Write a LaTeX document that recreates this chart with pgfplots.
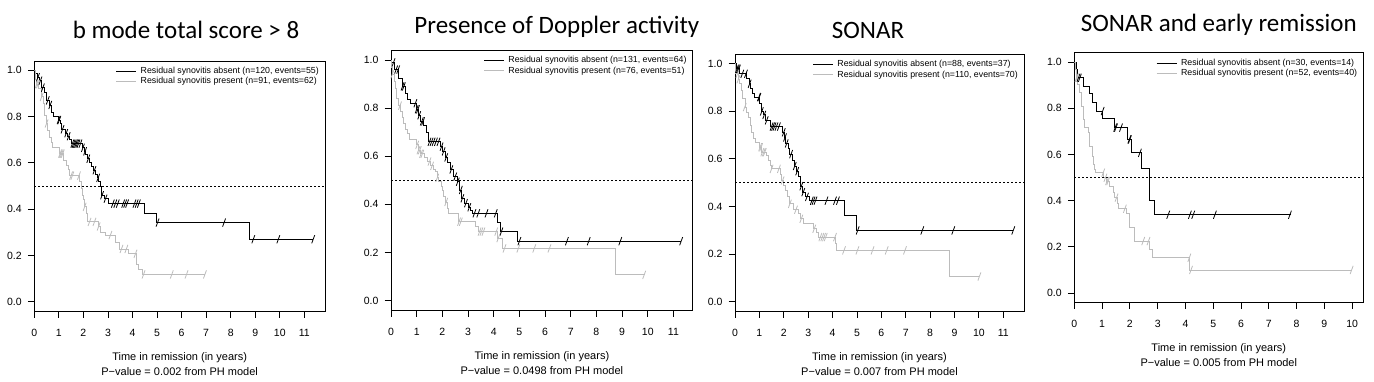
\documentclass[border=0pt]{standalone}
\usepackage{pgfplots}
\pgfplotsset{compat=1.18}
\usepackage{fontspec}
\setmainfont{Liberation Sans}
\newfontfamily\titlefont{Carlito}
\definecolor{kmgray}{RGB}{188,188,188}
\pgfdeclareplotmark{cens}{\pgfpathmoveto{\pgfqpoint{-1.5pt}{-4.1pt}}\pgfpathlineto{\pgfqpoint{1.5pt}{4.1pt}}\pgfusepathqstroke}
\pgfplotsset{
 km/.style={scale only axis, anchor=south west, xmin=0, ymin=-0.04, ymax=1.04,
  axis line style={line width=0.8pt},
  every tick/.style={black, line width=0.8pt},
  major tick length=6.5pt, tick align=outside, xtick pos=bottom, ytick pos=left,
  ytick={0,0.2,0.4,0.6,0.8,1},
  ticklabel style={font=\fontsize{10.5}{12}\selectfont},
  yticklabel style={xshift=-2.6pt, /pgf/number format/fixed, /pgf/number format/fixed zerofill, /pgf/number format/precision=1, /pgf/number format/assume math mode=true},
  xticklabel style={yshift=-8pt, /pgf/number format/assume math mode=true},
  legend style={at={(rel axis cs:1,1)}, anchor=north east, xshift=-1pt, yshift=-2pt, draw=none, fill=none,
    font=\fontsize{8.8}{10}\selectfont, row sep=-1.5pt, column sep=2pt},
  legend cell align=left,
  legend image code/.code={\draw[##1] (0pt,0pt) -- (20pt,0pt);},
 },
 survb/.style={const plot, black, line width=0.85pt, mark=none},
 survg/.style={const plot, kmgray, line width=0.85pt, mark=none},
 cmb/.style={only marks, mark=cens, black, mark options={line width=0.8pt}, forget plot},
 cmg/.style={only marks, mark=cens, kmgray, mark options={line width=0.8pt}, forget plot},
 half/.style={forget plot, black, line width=0.8pt, dash pattern=on 2pt off 2pt},
}
\begin{document}
\begin{tikzpicture}
\path[use as bounding box] (0pt,0pt) rectangle (1374pt,381pt);
% ---------------- Panel 1
\begin{axis}[km, name=p1, at={(34.3pt,70pt)}, width=290.7pt, height=250pt, xmax=11.84, xtick={0,1,...,11}]
\addplot[survb] coordinates {(0,1.0) (0.05,0.985) (0.12,0.97) (0.2,0.955) (0.3,0.925) (0.4,0.905) (0.48,0.87) (0.6,0.85) (0.7,0.82) (0.78,0.80) (0.98,0.785) (1.05,0.77) (1.12,0.745) (1.25,0.728) (1.35,0.715) (1.45,0.70) (1.52,0.683) (1.95,0.665) (2.03,0.65) (2.1,0.635) (2.17,0.618) (2.25,0.60) (2.32,0.585) (2.42,0.568) (2.5,0.55) (2.56,0.535) (2.63,0.518) (2.70,0.498) (2.74,0.46) (2.85,0.445) (3.0,0.424) (4.48,0.38) (4.98,0.342) (8.78,0.27) (11.36,0.27)};
\addlegendentry{Residual synovitis absent (n=120, events=55)}
\addplot[survg] coordinates {(0,1.0) (0.03,0.96) (0.08,0.94) (0.18,0.92) (0.28,0.885) (0.36,0.856) (0.42,0.806) (0.48,0.77) (0.55,0.74) (0.62,0.712) (0.7,0.69) (0.75,0.668) (1.03,0.64) (1.2,0.61) (1.3,0.59) (1.38,0.57) (1.45,0.545) (1.85,0.52) (1.9,0.49) (1.95,0.46) (2.0,0.44) (2.05,0.41) (2.12,0.38) (2.18,0.345) (2.6,0.325) (2.7,0.30) (2.9,0.288) (3.3,0.255) (3.45,0.228) (3.85,0.207) (4.15,0.16) (4.25,0.14) (4.4,0.118) (6.95,0.118)};
\addlegendentry{Residual synovitis present (n=91, events=62)}
\addplot[cmb] coordinates {(0.15,0.97) (0.25,0.955) (0.35,0.925) (0.55,0.87) (0.65,0.85) (0.99,0.785) (1.02,0.785) (1.15,0.745) (1.3,0.728) (1.4,0.715) (1.55,0.683) (1.6,0.683) (1.65,0.683) (1.7,0.683) (1.75,0.683) (1.8,0.683) (1.88,0.683) (1.98,0.665) (2.07,0.65) (2.2,0.618) (2.45,0.568) (2.6,0.535) (2.76,0.46) (2.9,0.445) (3.2,0.424) (3.3,0.424) (3.4,0.424) (3.62,0.424) (3.7,0.424) (3.78,0.424) (4.08,0.424) (4.17,0.424) (4.26,0.424) (5.02,0.342) (7.73,0.342) (8.92,0.27) (9.94,0.27) (11.36,0.27)};
\addplot[cmg] coordinates {(0.1,0.94) (0.15,0.94) (0.3,0.885) (0.5,0.77) (1.05,0.64) (1.08,0.64) (1.12,0.64) (1.16,0.64) (1.5,0.545) (1.55,0.545) (1.82,0.545) (2.05,0.41) (2.25,0.345) (2.45,0.345) (2.62,0.325) (3.1,0.288) (3.55,0.228) (3.75,0.228) (4.12,0.207) (4.45,0.118) (5.6,0.118) (6.2,0.118) (6.95,0.118)};
\addplot[half] coordinates {(0,0.5) (13,0.5)};
\end{axis}
% ---------------- Panel 2
\begin{axis}[km, name=p2, at={(391pt,70.7pt)}, width=301.7pt, height=260pt, xmax=11.75, xtick={0,1,...,11}]
\addplot[survb] coordinates {(0,1.0) (0.03,0.99) (0.15,0.96) (0.3,0.925) (0.43,0.89) (0.55,0.86) (0.65,0.835) (0.75,0.82) (1.0,0.795) (1.06,0.77) (1.15,0.745) (1.27,0.73) (1.38,0.7) (1.47,0.66) (1.92,0.64) (2.02,0.62) (2.12,0.595) (2.2,0.575) (2.31,0.545) (2.44,0.515) (2.57,0.494) (2.68,0.46) (2.75,0.425) (2.85,0.405) (3.0,0.388) (3.1,0.375) (3.18,0.363) (4.13,0.325) (4.26,0.287) (4.94,0.247) (11.3,0.247)};
\addlegendentry{Residual synovitis absent (n=131, events=64)}
\addplot[survg] coordinates {(0,1.0) (0.02,0.97) (0.05,0.94) (0.12,0.91) (0.17,0.88) (0.22,0.84) (0.27,0.81) (0.36,0.785) (0.45,0.76) (0.5,0.737) (0.58,0.71) (0.63,0.695) (0.7,0.668) (0.99,0.647) (1.05,0.625) (1.15,0.61) (1.3,0.595) (1.4,0.578) (1.55,0.56) (1.65,0.545) (1.73,0.536) (1.79,0.51) (1.85,0.495) (1.95,0.475) (2.0,0.46) (2.05,0.432) (2.12,0.41) (2.18,0.384) (2.25,0.363) (2.62,0.328) (3.3,0.307) (3.42,0.287) (4.13,0.26) (4.32,0.217) (8.75,0.107) (9.9,0.107)};
\addlegendentry{Residual synovitis present (n=76, events=51)}
\addplot[cmb] coordinates {(0.1,0.99) (0.2,0.96) (0.28,0.96) (0.45,0.89) (0.5,0.89) (0.95,0.82) (1.0,0.795) (1.05,0.795) (1.1,0.77) (1.2,0.745) (1.25,0.745) (1.5,0.66) (1.58,0.66) (1.66,0.66) (1.75,0.66) (1.85,0.66) (1.97,0.64) (2.05,0.62) (2.15,0.595) (2.35,0.545) (2.5,0.515) (2.6,0.494) (2.72,0.46) (2.78,0.425) (2.92,0.405) (3.05,0.388) (3.25,0.363) (3.4,0.363) (3.72,0.363) (4.08,0.363) (4.3,0.287) (5.0,0.247) (6.85,0.247) (7.7,0.247) (8.93,0.247) (11.3,0.247)};
\addplot[cmg] coordinates {(0.05,0.94) (0.35,0.81) (1.02,0.647) (1.07,0.625) (1.12,0.625) (1.17,0.61) (1.22,0.61) (1.5,0.578) (1.6,0.56) (1.8,0.51) (2.15,0.41) (2.65,0.328) (2.72,0.328) (3.45,0.287) (3.52,0.287) (3.6,0.287) (4.1,0.287) (4.18,0.26) (4.42,0.217) (4.96,0.217) (5.58,0.217) (6.17,0.217) (9.86,0.107)};
\addplot[half] coordinates {(0,0.5) (13,0.5)};
\end{axis}
% ---------------- Panel 3
\begin{axis}[km, name=p3, at={(735pt,70pt)}, width=289pt, height=256.7pt, xmax=11.85, xtick={0,1,...,11}]
\addplot[survb] coordinates {(0,1.0) (0.06,0.979) (0.2,0.958) (0.48,0.937) (0.58,0.916) (0.64,0.895) (0.72,0.875) (0.8,0.86) (1.02,0.832) (1.08,0.80) (1.15,0.785) (1.25,0.762) (1.47,0.736) (1.95,0.712) (2.02,0.69) (2.08,0.665) (2.17,0.642) (2.25,0.62) (2.35,0.595) (2.42,0.57) (2.5,0.548) (2.6,0.528) (2.7,0.485) (2.77,0.46) (2.9,0.44) (3.05,0.424) (4.47,0.362) (4.99,0.299) (11.41,0.299)};
\addlegendentry{Residual synovitis absent (n=88, events=37)}
\addplot[survg] coordinates {(0,1.0) (0.03,0.958) (0.13,0.935) (0.2,0.916) (0.27,0.888) (0.32,0.853) (0.41,0.818) (0.48,0.797) (0.55,0.776) (0.62,0.74) (0.68,0.712) (0.75,0.684) (0.82,0.67) (1.02,0.649) (1.1,0.628) (1.3,0.614) (1.37,0.593) (1.44,0.572) (1.5,0.558) (1.87,0.535) (1.91,0.509) (1.98,0.488) (2.05,0.467) (2.14,0.44) (2.23,0.411) (2.39,0.386) (2.6,0.369) (2.67,0.348) (2.8,0.327) (3.2,0.306) (3.35,0.292) (3.42,0.271) (4.12,0.243) (4.17,0.215) (8.79,0.105) (10.02,0.105)};
\addlegendentry{Residual synovitis present (n=110, events=70)}
\addplot[cmb] coordinates {(0.08,0.979) (0.12,0.979) (0.16,0.979) (0.3,0.958) (0.45,0.958) (0.6,0.916) (0.98,0.86) (1.0,0.86) (1.1,0.80) (1.2,0.785) (1.3,0.762) (1.5,0.736) (1.56,0.736) (1.62,0.736) (1.7,0.736) (1.8,0.736) (2.0,0.712) (2.05,0.69) (2.12,0.665) (2.3,0.62) (2.45,0.57) (2.55,0.548) (2.72,0.485) (2.8,0.46) (2.95,0.44) (3.15,0.424) (3.22,0.424) (3.3,0.424) (3.75,0.424) (4.1,0.424) (4.22,0.424) (5.03,0.299) (7.68,0.299) (8.95,0.299) (11.41,0.299)};
\addplot[cmg] coordinates {(0.1,0.958) (0.14,0.935) (0.4,0.818) (1.03,0.649) (1.07,0.649) (1.12,0.628) (1.18,0.628) (1.22,0.628) (1.5,0.558) (1.8,0.558) (1.95,0.509) (2.25,0.411) (2.5,0.386) (2.72,0.348) (3.25,0.306) (3.5,0.271) (3.58,0.271) (3.65,0.271) (3.72,0.271) (4.1,0.271) (4.47,0.215) (5.02,0.215) (5.64,0.215) (6.22,0.215) (6.97,0.215) (10.02,0.105)};
\addplot[half] coordinates {(0,0.5) (13,0.5)};
\end{axis}
% ---------------- Panel 4
\begin{axis}[km, name=p4, at={(1074.3pt,78.7pt)}, width=289pt, height=249.5pt, xmax=10.4, xtick={0,1,...,10}]
\addplot[survb] coordinates {(0,1.0) (0.06,0.968) (0.12,0.932) (0.32,0.896) (0.56,0.863) (0.66,0.824) (0.78,0.788) (1.02,0.755) (1.43,0.716) (1.91,0.665) (2.04,0.607) (2.42,0.538) (2.72,0.403) (2.88,0.339) (7.78,0.339)};
\addlegendentry{Residual synovitis absent (n=30, events=14)}
\addplot[survg] coordinates {(0,1.0) (0.03,0.968) (0.08,0.932) (0.12,0.903) (0.2,0.867) (0.26,0.81) (0.32,0.752) (0.38,0.716) (0.5,0.694) (0.56,0.636) (0.65,0.593) (0.68,0.557) (0.72,0.535) (0.75,0.521) (1.04,0.499) (1.14,0.485) (1.25,0.463) (1.4,0.434) (1.46,0.413) (1.55,0.388) (1.6,0.365) (1.88,0.343) (2.0,0.283) (2.18,0.225) (2.72,0.189) (2.8,0.153) (4.16,0.1) (9.98,0.1)};
\addlegendentry{Residual synovitis present (n=52, events=40)}
\addplot[cmb] coordinates {(0.15,0.932) (0.2,0.932) (1.02,0.788) (1.47,0.716) (1.5,0.716) (1.68,0.716) (1.98,0.665) (2.0,0.665) (2.36,0.607) (3.38,0.339) (4.16,0.339) (4.28,0.339) (5.06,0.339) (7.76,0.339)};
\addplot[cmg] coordinates {(0.08,0.932) (0.1,0.932) (1.04,0.521) (1.12,0.499) (1.18,0.485) (1.22,0.485) (1.52,0.413) (1.82,0.365) (2.48,0.225) (2.67,0.225) (4.14,0.153) (4.2,0.1) (9.98,0.1)};
\addplot[half] coordinates {(0,0.5) (13,0.5)};
\end{axis}
% ---------------- titles and labels
\tikzset{ttl/.style={anchor=base, font=\titlefont\fontsize{25}{30}\selectfont},
         xl/.style={anchor=base, font=\fontsize{11}{13}\selectfont}}
\node[ttl] at ([xshift=6.4pt, yshift=22.5pt]p1.north) {b mode total score > 8};
\node[ttl] at ([xshift=15pt, yshift=16.5pt]p2.north) {Presence of Doppler activity};
\node[ttl] at ([xshift=-11.5pt, yshift=16pt]p3.north) {SONAR};
\node[ttl] at ([xshift=0pt, yshift=21.7pt]p4.north) {SONAR and early remission};
\foreach \p/\v in {p1/0.002, p2/0.0498, p3/0.007, p4/0.005} {
  \node[xl] at ([yshift=-49pt]\p.south) {Time in remission (in years)};
  \node[xl] at ([yshift=-64pt]\p.south) {P−value = \v\ from PH model};
}
\end{tikzpicture}
\end{document}
